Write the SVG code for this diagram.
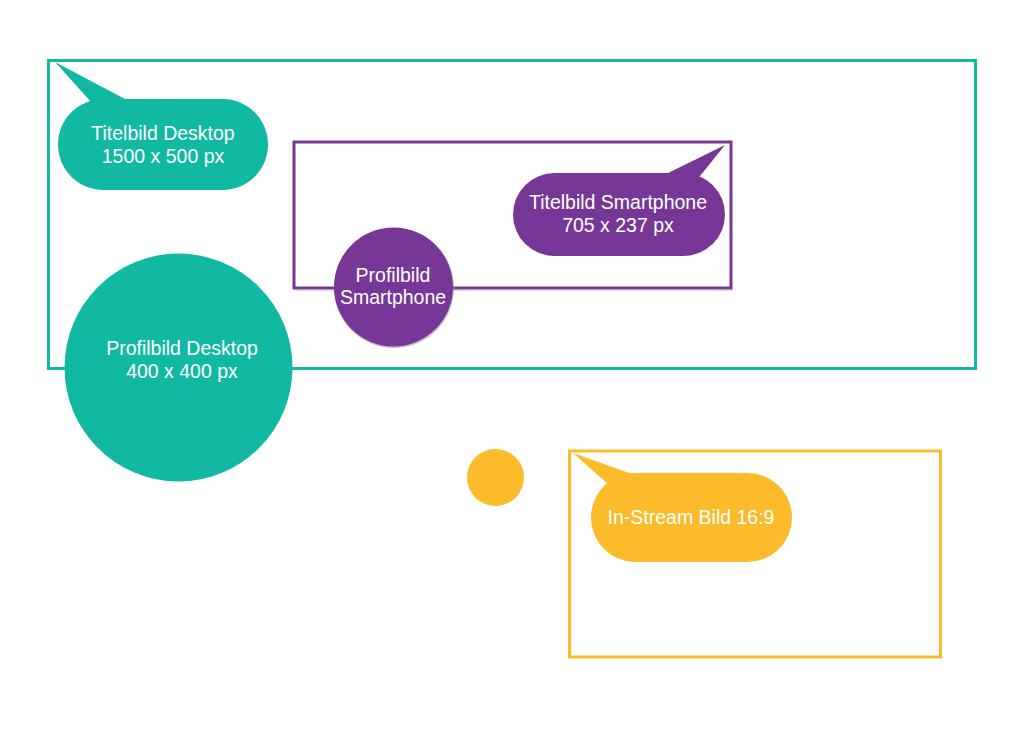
<svg xmlns="http://www.w3.org/2000/svg" width="1024" height="743" viewBox="0 0 1024 743">
<style>
.t{font-family:"Liberation Sans",Arial,Helvetica,sans-serif;font-size:19.5px;fill:#ffffff;text-anchor:middle}
.teal{fill:#12b9a2}
.purple{fill:#773797}
.yellow{fill:#fbbb2a}
</style>
<rect width="1024" height="743" fill="#ffffff"/>
<g id="frame-desktop"><rect x="48.5" y="60.5" width="927" height="308" fill="none" stroke="#12b9a2" stroke-width="3"/></g>
<g id="frame-smartphone"><rect x="294" y="142" width="437" height="146" fill="none" stroke="#773797" stroke-width="3"/><rect x="296" y="289.5" width="437" height="1.5" fill="#999" opacity="0.35"/></g>
<g id="frame-instream"><rect x="569.5" y="451" width="371" height="206" fill="none" stroke="#fbbb2a" stroke-width="3"/></g>
<g id="titelbild-desktop">
<path class="teal" d="M55 62 L125 99 L92 103 Z"/>
<rect class="teal" x="58" y="99" width="210" height="91" rx="45.5"/>
<text class="t" x="163" y="140">Titelbild Desktop</text>
<text class="t" x="163" y="163">1500 x 500 px</text>
</g>
<g id="profilbild-desktop">
<circle class="teal" cx="178.5" cy="367.5" r="114"/>
<text class="t" x="182" y="355">Profilbild Desktop</text>
<text class="t" x="182" y="378">400 x 400 px</text>
</g>
<g id="titelbild-smartphone">
<path class="purple" d="M725 145 L664 175 L700 176 Z"/>
<rect class="purple" x="513" y="173" width="212" height="83" rx="41.5"/>
<text class="t" x="618" y="209">Titelbild Smartphone</text>
<text class="t" x="618" y="232">705 x 237 px</text>
</g>
<g id="profilbild-smartphone">
<circle cx="394" cy="288" r="60" fill="#8a8a8a" opacity="0.5"/>
<circle class="purple" cx="393.5" cy="287" r="59.5"/>
<text class="t" x="393" y="282">Profilbild</text>
<text class="t" x="393" y="304">Smartphone</text>
</g>
<g id="instream-dot"><circle class="yellow" cx="495.5" cy="477.5" r="28.5"/></g>
<g id="instream-bild">
<path class="yellow" d="M573 453 L632 474 L608 484 Z"/>
<rect class="yellow" x="591" y="473" width="201" height="89" rx="44.5"/>
<text class="t" x="691" y="524">In-Stream Bild 16:9</text>
</g>
<g id="connectors"></g>
</svg>
